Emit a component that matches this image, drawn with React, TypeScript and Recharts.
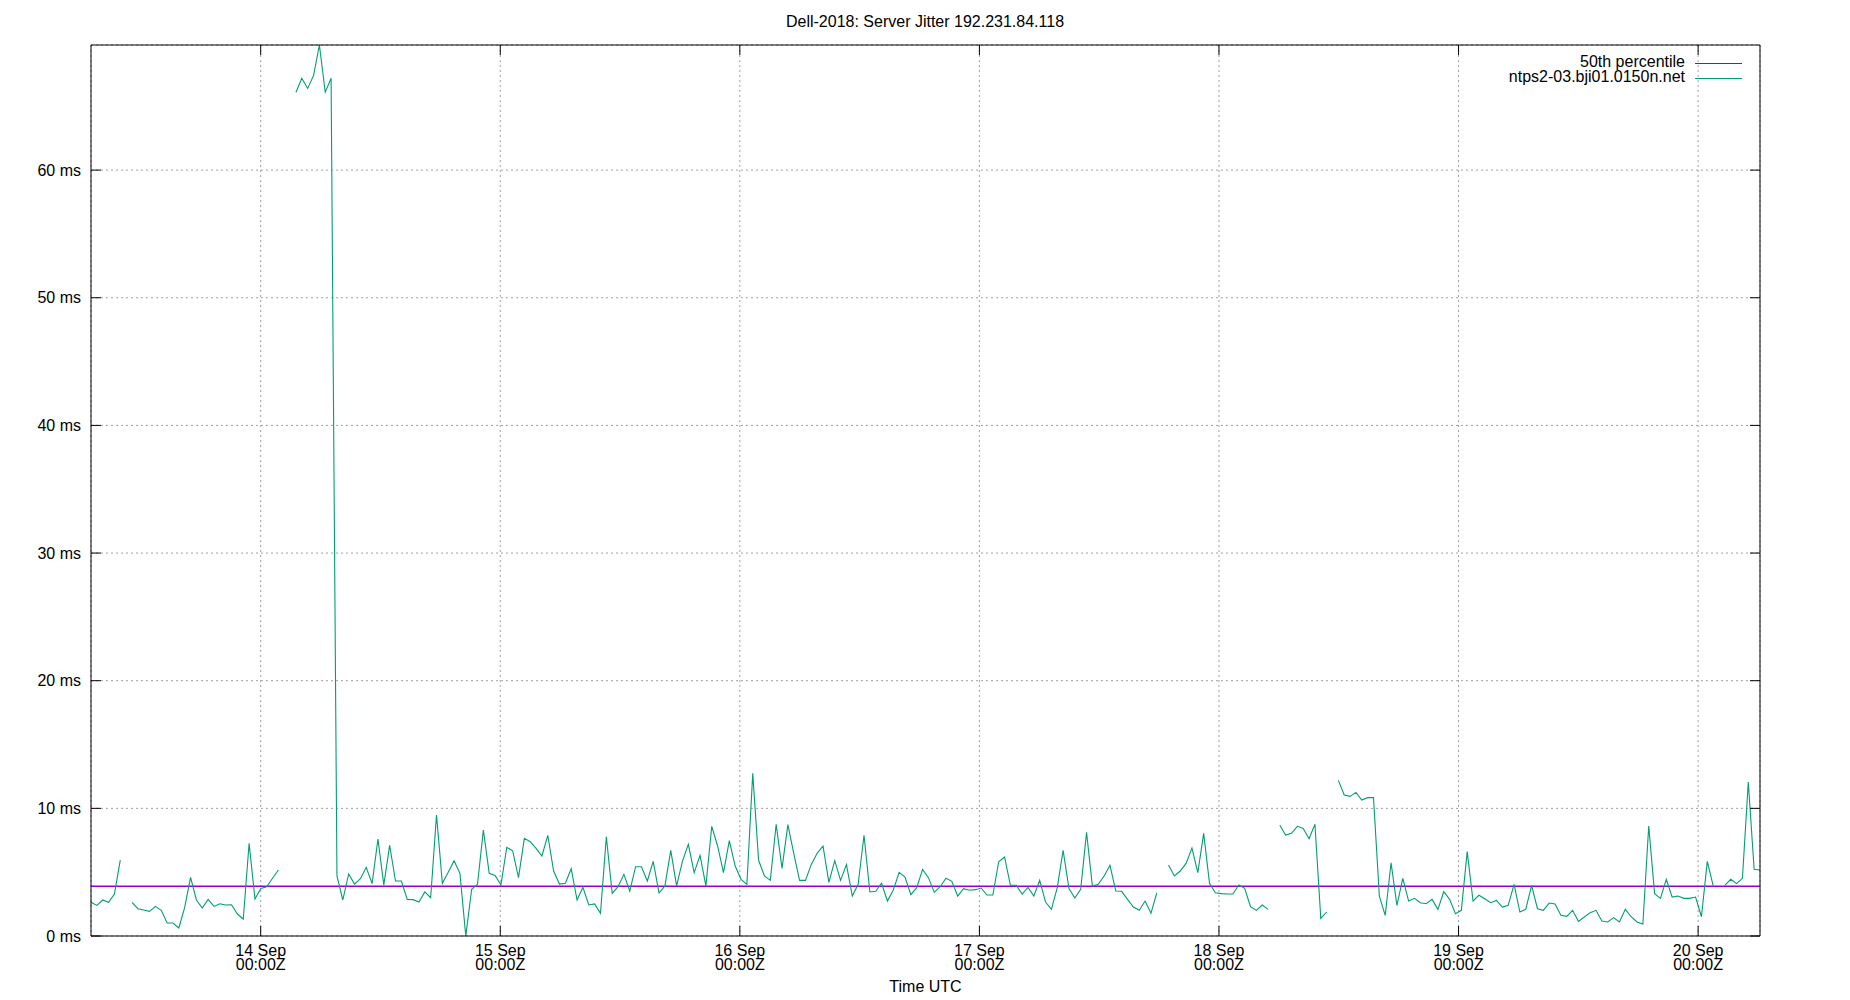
import React from 'react';
import { LineChart, Line, XAxis, YAxis, CartesianGrid, ReferenceLine, Legend } from 'recharts';

// Chart text
const TITLE = 'Dell-2018: Server Jitter 192.231.84.118';
const SERVER = 'ntps2-03.bji01.0150n.net';
const P50_LABEL = '50th percentile';

// Sampling: hours relative to 14 Sep 00:00Z, one sample every ~35 min
const START_HOUR = -17;
const STEP_HOURS = 35.2 / 60;

// Server jitter in ms (null = no sample)
const JITTER_MS: (number | null)[] = [
  2.64, 2.4, 2.82, 2.64, 3.29, 5.95, null, 2.64, 2.14, 2.04,
  1.93, 2.32, 2.01, 1.02, 1.02, 0.63, 2.25, 4.6, 2.82, 2.19,
  2.87, 2.32, 2.53, 2.43, 2.45, 1.72, 1.33, 7.26, 2.9, 3.73,
  3.86, 4.52, 5.17, null, null, 66.1, 67.2, 66.4, 67.4, 69.8,
  66.1, 67.2, 4.7, 2.82, 4.86, 4.07, 4.49, 5.38, 4.1, 7.6,
  4.0, 7.1, 4.31, 4.31, 2.87, 2.85, 2.66, 3.45, 3.0, 9.48,
  4.13, 4.99, 5.9, 4.91, 0, 3.66, 4.05, 8.3, 4.91, 4.75,
  4.0, 6.95, 6.68, 4.57, 7.65, 7.39, 6.87, 6.27, 7.89, 5.09,
  4.07, 4.13, 5.27, 2.82, 3.81, 2.43, 2.51, 1.78, 7.78, 3.34,
  3.86, 4.83, 3.52, 5.43, 5.43, 4.31, 5.85, 3.37, 3.92, 6.71,
  3.92, 5.87, 7.18, 4.96, 6.32, 3.92, 8.59, 7.05, 4.96, 7.47,
  5.48, 4.44, 4.05, 12.74, 5.93, 4.7, 4.36, 8.75, 5.3, 8.72,
  6.48, 4.36, 4.36, 5.61, 6.48, 7.05, 4.2, 5.9, 4.36, 5.59,
  3.13, 4.05, 7.89, 3.45, 3.5, 4.13, 2.74, 3.6, 4.99, 4.62,
  3.24, 3.79, 5.22, 4.57, 3.42, 3.86, 4.52, 4.28, 3.13, 3.71,
  3.58, 3.63, 3.76, 3.21, 3.21, 5.82, 6.19, 3.97, 3.97, 3.29,
  3.81, 3.13, 4.36, 2.66, 2.09, 3.79, 6.71, 3.71, 2.98, 3.66,
  8.12, 3.92, 4.05, 4.7, 5.54, 3.52, 3.5, 2.87, 2.27, 2.01,
  2.74, 1.78, 3.39, null, 5.56, 4.7, 5.09, 5.69, 6.89, 4.96,
  8.04, 4.13, 3.39, 3.32, 3.29, 3.29, 4.0, 3.73, 2.3, 2.01,
  2.43, 2.09, null, 8.67, 7.91, 8.04, 8.59, 8.43, 7.62, 8.75,
  1.38, 1.88, null, 12.19, 11.04, 10.94, 11.25, 10.65, 10.84, 10.84,
  3.13, 1.62, 5.74, 2.4, 4.52, 2.74, 2.95, 2.61, 2.53, 2.87,
  2.09, 3.47, 2.87, 1.75, 2.01, 6.61, 2.74, 3.19, 2.92, 2.61,
  2.79, 2.27, 2.4, 4.05, 1.88, 2.09, 3.97, 2.14, 2.01, 2.58,
  2.51, 1.62, 1.54, 2.01, 1.15, 1.49, 1.83, 2.01, 1.17, 1.1,
  1.44, 1.1, 2.09, 1.51, 1.1, 0.94, 8.62, 3.32, 2.95, 4.44,
  3.05, 3.13, 2.95, 2.95, 3.05, 1.51, 5.85, 3.94, null, 3.97,
  4.44, 4.1, 4.52, 12.06, 5.22, 5.17,
];

const P50_MS = 3.9;

// Axis ticks
const DAY_TICKS = [0, 24, 48, 72, 96, 120, 144];
const DAY_LABELS = ['14 Sep', '15 Sep', '16 Sep', '17 Sep', '18 Sep', '19 Sep', '20 Sep'];
const MS_TICKS = [0, 10, 20, 30, 40, 50, 60];

const FONT = '"Liberation Sans", Arial, sans-serif';
const GREEN = '#009e73';
const PURPLE = '#9400d3';

const data = JITTER_MS.map((jitter, i) => ({ t: START_HOUR + i * STEP_HOURS, jitter }));
const X_MIN = data[0].t;
const X_MAX = data[data.length - 1].t;
const Y_MAX = Math.max(...(JITTER_MS.filter((v) => v !== null) as number[]));

const XTick = ({ x, y, payload }: any) => {
  const label = DAY_LABELS[DAY_TICKS.indexOf(payload.value)];
  return (
    <text x={x} y={y} textAnchor="middle" fontSize={16} fill="#000" fontFamily={FONT}>
      <tspan x={x} dy={19.5}>{label}</tspan>
      <tspan x={x} dy={14.5}>00:00Z</tspan>
    </text>
  );
};

const NoTick = () => <g />;

// title + key drawn over the chart, like gnuplot does
const Overlay = () => (
  <svg width={1850} height={100} style={{ display: 'block' }} fontFamily={FONT} fontSize={16}>
    <text x={925} y={27} textAnchor="middle" fill="#000">{TITLE}</text>
    <text x={1685} y={67} textAnchor="end" fill="#000">{P50_LABEL}</text>
    <line x1={1695} x2={1742} y1={63.5} y2={63.5} stroke={PURPLE} strokeWidth={1.2} />
    <text x={1685} y={82} textAnchor="end" fill="#000">{SERVER}</text>
    <line x1={1695} x2={1742} y1={78.5} y2={78.5} stroke={GREEN} strokeWidth={1.2} />
  </svg>
);

const App: React.FC = () => {
  return (
    <div style={{ width: 1850, height: 1000, background: '#fff' }}>
      <style>{'body { margin: 0; }'}</style>
      <LineChart width={1850} height={1000} data={data} margin={{ top: 44, right: 89, bottom: 0, left: 0 }}>
        <CartesianGrid stroke="#a0a0a0" strokeDasharray="2 3" />
        <XAxis
          dataKey="t"
          type="number"
          domain={[X_MIN, X_MAX]}
          ticks={DAY_TICKS}
          height={64}
          tickSize={-10}
          tickMargin={10}
          tick={XTick}
          axisLine={{ stroke: '#000' }}
          tickLine={{ stroke: '#000' }}
          label={{ value: 'Time UTC', position: 'insideBottom', offset: 8, fill: '#000', fontSize: 16, fontFamily: FONT }}
        />
        <XAxis
          xAxisId="top"
          orientation="top"
          dataKey="t"
          type="number"
          domain={[X_MIN, X_MAX]}
          ticks={DAY_TICKS}
          height={1}
          tickSize={-10}
          tick={NoTick}
          axisLine={{ stroke: '#000' }}
          tickLine={{ stroke: '#000' }}
        />
        <YAxis
          type="number"
          domain={[0, Y_MAX]}
          ticks={MS_TICKS}
          width={91}
          tickSize={-10}
          tickMargin={20}
          tickFormatter={(v: number) => `${v} ms`}
          tick={{ fill: '#000', fontSize: 16, fontFamily: FONT }}
          axisLine={{ stroke: '#000' }}
          tickLine={{ stroke: '#000' }}
        />
        <YAxis
          yAxisId="right"
          orientation="right"
          type="number"
          domain={[0, Y_MAX]}
          ticks={MS_TICKS}
          width={1}
          tickSize={-10}
          tick={NoTick}
          axisLine={{ stroke: '#000' }}
          tickLine={{ stroke: '#000' }}
        />
        <ReferenceLine y={P50_MS} stroke={PURPLE} strokeWidth={1.6} />
        {/* unseen copy of the series so the mirrored top/right axes get drawn */}
        <Line
          xAxisId="top"
          yAxisId="right"
          dataKey="jitter"
          stroke="none"
          dot={false}
          activeDot={false}
          legendType="none"
          isAnimationActive={false}
        />
        <Line
          type="linear"
          dataKey="jitter"
          stroke={GREEN}
          strokeWidth={1.1}
          dot={false}
          activeDot={false}
          connectNulls={false}
          isAnimationActive={false}
        />
        <Legend
          layout="horizontal"
          verticalAlign="middle"
          align="center"
          content={Overlay}
          wrapperStyle={{ position: 'absolute', top: 0, left: 0, width: 1850, height: 100, margin: 0, pointerEvents: 'none' }}
        />
      </LineChart>
    </div>
  );
};

export default App;
